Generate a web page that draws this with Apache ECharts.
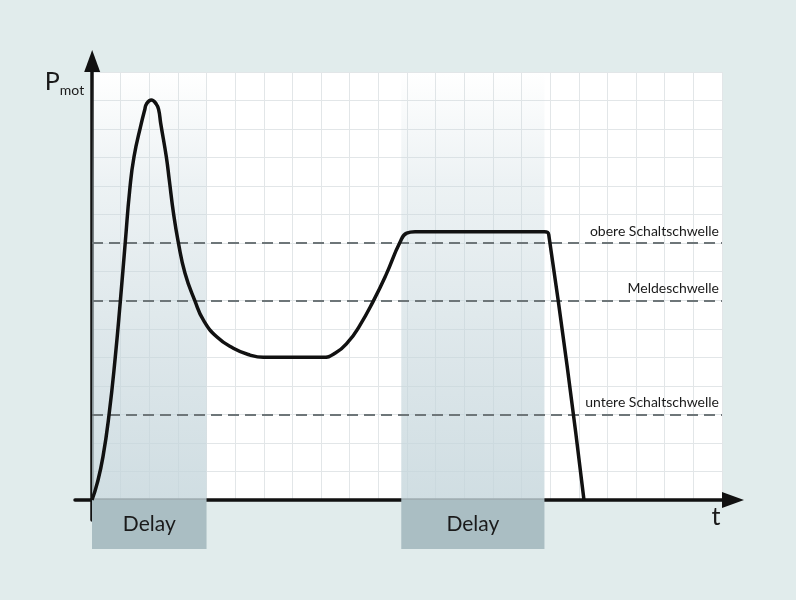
<!DOCTYPE html>
<html>
<head>
<meta charset="utf-8">
<script src="https://cdn.jsdelivr.net/npm/echarts@6/dist/echarts.min.js"></script>
<style>
  html, body { margin: 0; padding: 0; background: #e1ecec; }
  #main { width: 796px; height: 600px; }
</style>
</head>
<body>
<div id="main"></div>
<script>
// Motorleistung P_mot über die Zeit t
const curveX = [0, 0.185, 0.384, 0.594, 0.814, 0.988, 1.163, 1.317, 1.467, 1.722, 1.84, 1.903, 2.071, 2.242, 2.329, 2.399, 2.595, 2.699, 2.846, 3.014, 3.248, 3.597, 3.887, 4.355, 4.934, 5.517, 5.982, 8.05, 8.486, 8.95, 9.359, 9.823, 10.267, 10.755, 10.99, 11.28, 15.8, 15.95, 17.18]
const curveY = [0, 0.6, 1.52, 2.98, 5.02, 6.95, 9.05, 10.86, 12.03, 13.2, 13.67, 13.88, 14.02, 13.88, 13.67, 13.2, 12.03, 11.21, 10.05, 9.03, 7.95, 6.97, 6.31, 5.72, 5.32, 5.08, 5.0, 5.0, 5.14, 5.55, 6.13, 6.97, 7.89, 9.03, 9.35, 9.4, 9.4, 9.3, 0]

const thresholdNames = ['obere Schaltschwelle', 'Meldeschwelle', 'untere Schaltschwelle']
const thresholdValues = [9, 7, 3]

const delayStart = [0, 10.8]
const delayEnd = [4, 15.8]
const delayText = 'Delay'

const FONT = 'Lato, "Open Sans", sans-serif'

let myChart = echarts.init(document.getElementById('main'))

const hiddenAxis = {
  axisLine: { show: false },
  axisTick: { show: false },
  axisLabel: { show: false },
  splitLine: { show: false }
}

let option = {
  backgroundColor: '#e1ecec',
  animation: false,
  grid: [
    // Diagrammfläche
    { left: 92, right: 74, top: 72, bottom: 100, show: true, backgroundColor: '#ffffff', borderWidth: 0 },
    // Achsen mit Pfeilen
    { left: 75, right: 74, top: 72, bottom: 80 },
    // Delay-Kästen unter der Zeitachse
    { left: 92, right: 74, top: 500, bottom: 51 }
  ],
  xAxis: [
    {
      gridIndex: 0, type: 'value', min: 0, max: 22, interval: 1,
      axisLine: { show: false }, axisTick: { show: false }, axisLabel: { show: false },
      splitLine: { show: true, lineStyle: { color: '#e2e6e8', width: 1 } }
    },
    {
      gridIndex: 1, type: 'value', min: -0.6, max: 22,
      axisLine: {
        show: true, onZero: true,
        symbol: ['none', 'triangle'], symbolSize: [16, 22], symbolOffset: [0, 11],
        lineStyle: { color: '#111111', width: 3.5 }
      },
      axisTick: { show: false }, axisLabel: { show: false }, splitLine: { show: false },
      name: 't', nameLocation: 'end', nameGap: -6,
      nameTextStyle: { fontFamily: FONT, fontSize: 25, color: '#1a1a1a', align: 'center', verticalAlign: 'top', padding: [4, 0, 0, 0] }
    },
    Object.assign({ gridIndex: 2, type: 'value', min: 0, max: 22 }, hiddenAxis)
  ],
  yAxis: [
    {
      gridIndex: 0, type: 'value', min: 0, max: 15, interval: 1,
      axisLine: { show: false }, axisTick: { show: false }, axisLabel: { show: false },
      splitLine: { show: true, lineStyle: { color: '#e2e6e8', width: 1 } }
    },
    {
      gridIndex: 1, type: 'value', min: -0.7, max: 15,
      axisLine: {
        show: true, onZero: true,
        symbol: ['none', 'triangle'], symbolSize: [16, 22], symbolOffset: [0, 11],
        lineStyle: { color: '#111111', width: 3.5 }
      },
      axisTick: { show: false }, axisLabel: { show: false }, splitLine: { show: false },
      name: '{p|P}{s|mot}', nameLocation: 'end', nameGap: -22,
      nameTextStyle: {
        align: 'right', verticalAlign: 'bottom', padding: [0, 8, 0, 0],
        rich: {
          p: { fontFamily: FONT, fontSize: 25, color: '#1a1a1a', verticalAlign: 'bottom' },
          s: { fontFamily: FONT, fontSize: 14, color: '#1a1a1a', verticalAlign: 'bottom', padding: [0, 0, -3, 0] }
        }
      }
    },
    Object.assign({ gridIndex: 2, type: 'value', min: 0, max: 1 }, hiddenAxis)
  ],
  series: [
    {
      // Delay-Bereiche im Diagramm
      type: 'line', xAxisIndex: 0, yAxisIndex: 0, data: [], z: 1,
      markArea: {
        silent: true,
        itemStyle: {
          color: {
            type: 'linear', x: 0, y: 0, x2: 0, y2: 1,
            colorStops: [
              { offset: 0, color: 'rgba(196,213,219,0)' },
              { offset: 0.25, color: 'rgba(196,213,219,0.3)' },
              { offset: 0.6, color: 'rgba(196,213,219,0.55)' },
              { offset: 1, color: 'rgba(196,213,219,0.8)' }
            ]
          }
        },
        data: delayStart.map(function (s, i) {
          return [{ xAxis: s, yAxis: 0 }, { xAxis: delayEnd[i], yAxis: 15 }]
        })
      }
    },
    {
      // Schwellen
      type: 'line', xAxisIndex: 0, yAxisIndex: 0, data: [], z: 2,
      markLine: {
        silent: true,
        symbol: ['none', 'none'],
        lineStyle: { type: [11, 6], color: '#6e7679', width: 2 },
        label: {
          show: true, position: 'insideEndTop', formatter: '{b}',
          fontFamily: FONT, fontSize: 14, color: '#1a1a1a', distance: [3, 5]
        },
        data: thresholdValues.map(function (v, i) {
          return { name: thresholdNames[i], yAxis: v }
        })
      }
    },
    {
      // Leistungskurve
      type: 'line', xAxisIndex: 0, yAxisIndex: 0, z: 5,
      smooth: 0.5, symbol: 'none',
      lineStyle: { color: '#111111', width: 3.5 },
      data: curveX.map(function (x, i) { return [x, curveY[i]] })
    },
    {
      type: 'line', xAxisIndex: 1, yAxisIndex: 1, data: []
    },
    {
      // Delay-Kästen
      type: 'line', xAxisIndex: 2, yAxisIndex: 2, data: [], z: 1,
      markArea: {
        silent: true,
        itemStyle: { color: '#aabec3' },
        label: { show: true, position: 'inside', fontFamily: FONT, fontSize: 21, color: '#1a1a1a' },
        data: delayStart.map(function (s, i) {
          return [{ name: delayText, xAxis: s, yAxis: 0 }, { xAxis: delayEnd[i], yAxis: 1 }]
        })
      }
    }
  ]
}
myChart.setOption(option)
</script>
</body>
</html>
